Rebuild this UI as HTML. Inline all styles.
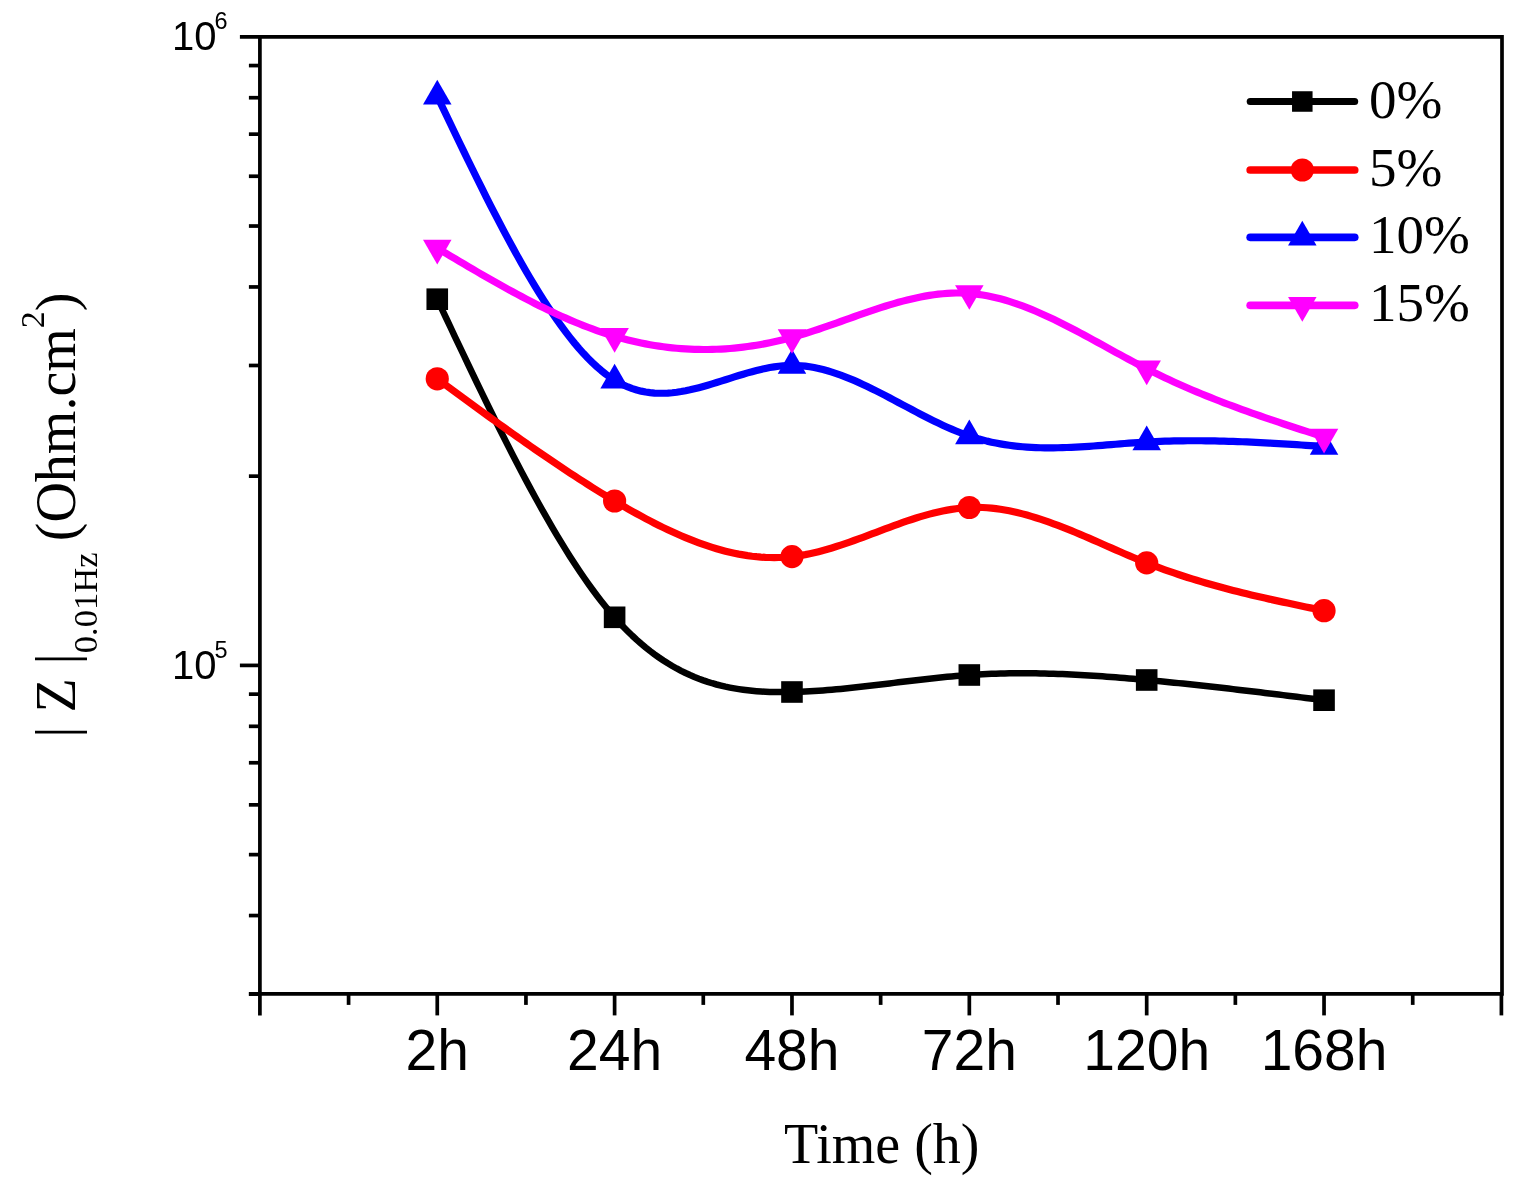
<!DOCTYPE html>
<html><head><meta charset="utf-8"><style>
html,body{margin:0;padding:0;background:#fff;}
svg{display:block;}
</style></head><body>
<svg width="1525" height="1189" viewBox="0 0 1525 1189">
<rect width="1525" height="1189" fill="#fff"/>
<g stroke="#000" stroke-width="3.7" fill="none" stroke-linecap="butt">
<path d="M239.89999999999998,36.8 H1502.0 V993.9 H248.89999999999998 M259.9,36.8 V1015.4"/>
<path d="M248.89999999999998,476.17 H259.9"/>
<path d="M248.89999999999998,365.48 H259.9"/>
<path d="M248.89999999999998,286.95 H259.9"/>
<path d="M248.89999999999998,226.03 H259.9"/>
<path d="M248.89999999999998,176.25 H259.9"/>
<path d="M248.89999999999998,134.17 H259.9"/>
<path d="M248.89999999999998,97.72 H259.9"/>
<path d="M248.89999999999998,65.56 H259.9"/>
<path d="M248.89999999999998,994.08 H259.9"/>
<path d="M248.89999999999998,915.55 H259.9"/>
<path d="M248.89999999999998,854.63 H259.9"/>
<path d="M248.89999999999998,804.85 H259.9"/>
<path d="M248.89999999999998,762.77 H259.9"/>
<path d="M248.89999999999998,726.32 H259.9"/>
<path d="M248.89999999999998,694.16 H259.9"/>
<path d="M239.89999999999998,665.40 H259.9"/>
<path d="M437.26,993.9 V1015.4"/>
<path d="M614.61,993.9 V1015.4"/>
<path d="M791.97,993.9 V1015.4"/>
<path d="M969.33,993.9 V1015.4"/>
<path d="M1146.69,993.9 V1015.4"/>
<path d="M1324.04,993.9 V1015.4"/>
<path d="M1501.40,993.9 V1015.4"/>
<path d="M348.58,993.9 V1004.9"/>
<path d="M525.94,993.9 V1004.9"/>
<path d="M703.29,993.9 V1004.9"/>
<path d="M880.65,993.9 V1004.9"/>
<path d="M1058.01,993.9 V1004.9"/>
<path d="M1235.36,993.9 V1004.9"/>
<path d="M1412.72,993.9 V1004.9"/>
</g>
<path d="M437.26,299.20 L441.69,308.61 L446.12,318.01 L450.56,327.40 L454.99,336.78 L459.43,346.13 L463.86,355.46 L468.29,364.76 L472.73,374.01 L477.16,383.22 L481.60,392.39 L486.03,401.49 L490.46,410.54 L494.90,419.53 L499.33,428.44 L503.77,437.27 L508.20,446.02 L512.63,454.69 L517.07,463.26 L521.50,471.74 L525.94,480.11 L530.37,488.37 L534.80,496.52 L539.24,504.54 L543.67,512.44 L548.11,520.21 L552.54,527.84 L556.97,535.34 L561.41,542.68 L565.84,549.87 L570.27,556.90 L574.71,563.77 L579.14,570.47 L583.58,576.99 L588.01,583.33 L592.44,589.49 L596.88,595.46 L601.31,601.23 L605.75,606.79 L610.18,612.15 L614.61,617.30 L619.05,622.23 L623.48,626.95 L627.92,631.45 L632.35,635.75 L636.78,639.85 L641.22,643.76 L645.65,647.47 L650.09,650.99 L654.52,654.34 L658.95,657.50 L663.39,660.49 L667.82,663.32 L672.26,665.97 L676.69,668.47 L681.12,670.82 L685.56,673.01 L689.99,675.05 L694.42,676.95 L698.86,678.72 L703.29,680.35 L707.73,681.86 L712.16,683.24 L716.59,684.50 L721.03,685.64 L725.46,686.68 L729.90,687.60 L734.33,688.43 L738.76,689.16 L743.20,689.80 L747.63,690.35 L752.07,690.82 L756.50,691.20 L760.93,691.52 L765.37,691.76 L769.80,691.94 L774.24,692.05 L778.67,692.11 L783.10,692.12 L787.54,692.08 L791.97,692.00 L796.41,691.88 L800.84,691.72 L805.27,691.53 L809.71,691.30 L814.14,691.04 L818.57,690.76 L823.01,690.44 L827.44,690.10 L831.88,689.73 L836.31,689.34 L840.74,688.92 L845.18,688.49 L849.61,688.04 L854.05,687.57 L858.48,687.08 L862.91,686.59 L867.35,686.08 L871.78,685.56 L876.22,685.03 L880.65,684.50 L885.08,683.96 L889.52,683.42 L893.95,682.87 L898.39,682.33 L902.82,681.79 L907.25,681.25 L911.69,680.72 L916.12,680.19 L920.56,679.67 L924.99,679.16 L929.42,678.67 L933.86,678.18 L938.29,677.71 L942.72,677.26 L947.16,676.83 L951.59,676.42 L956.03,676.03 L960.46,675.66 L964.89,675.32 L969.33,675.00 L973.76,674.71 L978.20,674.45 L982.63,674.22 L987.06,674.01 L991.50,673.83 L995.93,673.68 L1000.37,673.55 L1004.80,673.45 L1009.23,673.37 L1013.67,673.31 L1018.10,673.28 L1022.54,673.27 L1026.97,673.28 L1031.40,673.32 L1035.84,673.37 L1040.27,673.45 L1044.71,673.54 L1049.14,673.66 L1053.57,673.79 L1058.01,673.94 L1062.44,674.11 L1066.88,674.30 L1071.31,674.50 L1075.74,674.72 L1080.18,674.96 L1084.61,675.21 L1089.04,675.47 L1093.48,675.75 L1097.91,676.04 L1102.35,676.35 L1106.78,676.67 L1111.21,677.00 L1115.65,677.34 L1120.08,677.69 L1124.52,678.05 L1128.95,678.42 L1133.38,678.81 L1137.82,679.20 L1142.25,679.59 L1146.69,680.00 L1151.23,680.42 L1155.78,680.86 L1160.33,681.29 L1164.88,681.74 L1169.42,682.19 L1173.97,682.65 L1178.52,683.12 L1183.07,683.59 L1187.61,684.06 L1192.16,684.55 L1196.71,685.04 L1201.26,685.53 L1205.80,686.03 L1210.35,686.53 L1214.90,687.04 L1219.45,687.56 L1224.00,688.07 L1228.54,688.60 L1233.09,689.12 L1237.64,689.65 L1242.19,690.19 L1246.73,690.72 L1251.28,691.26 L1255.83,691.81 L1260.38,692.35 L1264.92,692.90 L1269.47,693.45 L1274.02,694.01 L1278.57,694.56 L1283.11,695.12 L1287.66,695.68 L1292.21,696.24 L1296.76,696.81 L1301.30,697.37 L1305.85,697.94 L1310.40,698.50 L1314.95,699.07 L1319.50,699.63 L1324.04,700.20" stroke="#000000" stroke-width="6.5" fill="none" stroke-linejoin="round" stroke-linecap="round"/>
<rect x="426.46" y="288.40" width="21.60" height="21.60" fill="#000000"/>
<rect x="603.81" y="606.50" width="21.60" height="21.60" fill="#000000"/>
<rect x="781.17" y="681.20" width="21.60" height="21.60" fill="#000000"/>
<rect x="958.53" y="664.20" width="21.60" height="21.60" fill="#000000"/>
<rect x="1135.89" y="669.20" width="21.60" height="21.60" fill="#000000"/>
<rect x="1313.24" y="689.40" width="21.60" height="21.60" fill="#000000"/>
<path d="M437.26,378.80 L441.69,382.06 L446.12,385.32 L450.56,388.58 L454.99,391.84 L459.43,395.10 L463.86,398.35 L468.29,401.59 L472.73,404.83 L477.16,408.07 L481.60,411.29 L486.03,414.51 L490.46,417.72 L494.90,420.93 L499.33,424.12 L503.77,427.30 L508.20,430.47 L512.63,433.62 L517.07,436.77 L521.50,439.90 L525.94,443.01 L530.37,446.11 L534.80,449.19 L539.24,452.26 L543.67,455.30 L548.11,458.33 L552.54,461.34 L556.97,464.33 L561.41,467.30 L565.84,470.25 L570.27,473.17 L574.71,476.07 L579.14,478.95 L583.58,481.80 L588.01,484.63 L592.44,487.43 L596.88,490.20 L601.31,492.94 L605.75,495.66 L610.18,498.34 L614.61,501.00 L619.05,503.62 L623.48,506.22 L627.92,508.77 L632.35,511.29 L636.78,513.76 L641.22,516.20 L645.65,518.59 L650.09,520.93 L654.52,523.22 L658.95,525.46 L663.39,527.64 L667.82,529.77 L672.26,531.83 L676.69,533.84 L681.12,535.78 L685.56,537.66 L689.99,539.46 L694.42,541.20 L698.86,542.86 L703.29,544.44 L707.73,545.95 L712.16,547.38 L716.59,548.72 L721.03,549.98 L725.46,551.15 L729.90,552.23 L734.33,553.22 L738.76,554.12 L743.20,554.91 L747.63,555.61 L752.07,556.21 L756.50,556.70 L760.93,557.08 L765.37,557.36 L769.80,557.52 L774.24,557.58 L778.67,557.51 L783.10,557.33 L787.54,557.03 L791.97,556.60 L796.41,556.05 L800.84,555.38 L805.27,554.60 L809.71,553.71 L814.14,552.73 L818.57,551.65 L823.01,550.49 L827.44,549.25 L831.88,547.93 L836.31,546.55 L840.74,545.11 L845.18,543.62 L849.61,542.09 L854.05,540.51 L858.48,538.90 L862.91,537.27 L867.35,535.61 L871.78,533.95 L876.22,532.27 L880.65,530.60 L885.08,528.94 L889.52,527.29 L893.95,525.66 L898.39,524.05 L902.82,522.48 L907.25,520.95 L911.69,519.47 L916.12,518.04 L920.56,516.68 L924.99,515.37 L929.42,514.15 L933.86,513.00 L938.29,511.94 L942.72,510.97 L947.16,510.10 L951.59,509.34 L956.03,508.70 L960.46,508.17 L964.89,507.77 L969.33,507.50 L973.76,507.37 L978.20,507.38 L982.63,507.51 L987.06,507.78 L991.50,508.16 L995.93,508.66 L1000.37,509.27 L1004.80,510.00 L1009.23,510.82 L1013.67,511.75 L1018.10,512.76 L1022.54,513.87 L1026.97,515.07 L1031.40,516.34 L1035.84,517.69 L1040.27,519.11 L1044.71,520.60 L1049.14,522.15 L1053.57,523.76 L1058.01,525.43 L1062.44,527.14 L1066.88,528.89 L1071.31,530.69 L1075.74,532.52 L1080.18,534.38 L1084.61,536.27 L1089.04,538.18 L1093.48,540.11 L1097.91,542.05 L1102.35,543.99 L1106.78,545.94 L1111.21,547.89 L1115.65,549.84 L1120.08,551.77 L1124.52,553.69 L1128.95,555.59 L1133.38,557.46 L1137.82,559.31 L1142.25,561.12 L1146.69,562.90 L1151.23,564.68 L1155.78,566.42 L1160.33,568.11 L1164.88,569.76 L1169.42,571.38 L1173.97,572.95 L1178.52,574.49 L1183.07,575.99 L1187.61,577.46 L1192.16,578.89 L1196.71,580.29 L1201.26,581.65 L1205.80,582.99 L1210.35,584.30 L1214.90,585.58 L1219.45,586.83 L1224.00,588.05 L1228.54,589.25 L1233.09,590.43 L1237.64,591.58 L1242.19,592.71 L1246.73,593.83 L1251.28,594.92 L1255.83,595.99 L1260.38,597.05 L1264.92,598.09 L1269.47,599.12 L1274.02,600.13 L1278.57,601.13 L1283.11,602.12 L1287.66,603.10 L1292.21,604.07 L1296.76,605.03 L1301.30,605.99 L1305.85,606.94 L1310.40,607.88 L1314.95,608.82 L1319.50,609.76 L1324.04,610.70" stroke="#ff0000" stroke-width="7.2" fill="none" stroke-linejoin="round" stroke-linecap="round"/>
<circle cx="437.26" cy="378.80" r="11.60" fill="#ff0000"/>
<circle cx="614.61" cy="501.00" r="11.60" fill="#ff0000"/>
<circle cx="791.97" cy="556.60" r="11.60" fill="#ff0000"/>
<circle cx="969.33" cy="507.50" r="11.60" fill="#ff0000"/>
<circle cx="1146.69" cy="562.90" r="11.60" fill="#ff0000"/>
<circle cx="1324.04" cy="610.70" r="11.60" fill="#ff0000"/>
<path d="M437.26,96.20 L441.69,105.48 L446.12,114.76 L450.56,124.02 L454.99,133.25 L459.43,142.46 L463.86,151.62 L468.29,160.73 L472.73,169.78 L477.16,178.77 L481.60,187.69 L486.03,196.52 L490.46,205.27 L494.90,213.91 L499.33,222.45 L503.77,230.87 L508.20,239.17 L512.63,247.34 L517.07,255.37 L521.50,263.26 L525.94,270.98 L530.37,278.55 L534.80,285.94 L539.24,293.15 L543.67,300.17 L548.11,306.99 L552.54,313.62 L556.97,320.02 L561.41,326.21 L565.84,332.17 L570.27,337.88 L574.71,343.36 L579.14,348.58 L583.58,353.53 L588.01,358.22 L592.44,362.63 L596.88,366.75 L601.31,370.57 L605.75,374.10 L610.18,377.31 L614.61,380.20 L619.05,382.77 L623.48,385.02 L627.92,386.97 L632.35,388.63 L636.78,390.02 L641.22,391.14 L645.65,392.01 L650.09,392.65 L654.52,393.06 L658.95,393.26 L663.39,393.26 L667.82,393.08 L672.26,392.72 L676.69,392.21 L681.12,391.55 L685.56,390.75 L689.99,389.84 L694.42,388.82 L698.86,387.70 L703.29,386.50 L707.73,385.24 L712.16,383.91 L716.59,382.55 L721.03,381.16 L725.46,379.74 L729.90,378.33 L734.33,376.92 L738.76,375.54 L743.20,374.19 L747.63,372.89 L752.07,371.66 L756.50,370.49 L760.93,369.41 L765.37,368.44 L769.80,367.57 L774.24,366.83 L778.67,366.23 L783.10,365.79 L787.54,365.50 L791.97,365.40 L796.41,365.48 L800.84,365.75 L805.27,366.19 L809.71,366.80 L814.14,367.57 L818.57,368.49 L823.01,369.56 L827.44,370.76 L831.88,372.09 L836.31,373.55 L840.74,375.12 L845.18,376.80 L849.61,378.57 L854.05,380.44 L858.48,382.39 L862.91,384.42 L867.35,386.51 L871.78,388.67 L876.22,390.88 L880.65,393.13 L885.08,395.42 L889.52,397.75 L893.95,400.09 L898.39,402.45 L902.82,404.82 L907.25,407.19 L911.69,409.54 L916.12,411.89 L920.56,414.21 L924.99,416.50 L929.42,418.75 L933.86,420.95 L938.29,423.10 L942.72,425.19 L947.16,427.21 L951.59,429.15 L956.03,431.01 L960.46,432.78 L964.89,434.44 L969.33,436.00 L973.76,437.45 L978.20,438.78 L982.63,440.00 L987.06,441.13 L991.50,442.15 L995.93,443.07 L1000.37,443.90 L1004.80,444.64 L1009.23,445.29 L1013.67,445.86 L1018.10,446.35 L1022.54,446.77 L1026.97,447.11 L1031.40,447.38 L1035.84,447.59 L1040.27,447.73 L1044.71,447.82 L1049.14,447.86 L1053.57,447.84 L1058.01,447.77 L1062.44,447.66 L1066.88,447.52 L1071.31,447.33 L1075.74,447.11 L1080.18,446.86 L1084.61,446.59 L1089.04,446.29 L1093.48,445.97 L1097.91,445.64 L1102.35,445.30 L1106.78,444.95 L1111.21,444.59 L1115.65,444.23 L1120.08,443.88 L1124.52,443.53 L1128.95,443.19 L1133.38,442.86 L1137.82,442.55 L1142.25,442.27 L1146.69,442.00 L1151.23,441.76 L1155.78,441.54 L1160.33,441.35 L1164.88,441.19 L1169.42,441.05 L1173.97,440.94 L1178.52,440.85 L1183.07,440.79 L1187.61,440.75 L1192.16,440.73 L1196.71,440.73 L1201.26,440.75 L1205.80,440.80 L1210.35,440.86 L1214.90,440.94 L1219.45,441.04 L1224.00,441.15 L1228.54,441.29 L1233.09,441.43 L1237.64,441.60 L1242.19,441.77 L1246.73,441.96 L1251.28,442.16 L1255.83,442.38 L1260.38,442.60 L1264.92,442.84 L1269.47,443.08 L1274.02,443.34 L1278.57,443.60 L1283.11,443.87 L1287.66,444.14 L1292.21,444.42 L1296.76,444.71 L1301.30,445.00 L1305.85,445.30 L1310.40,445.60 L1314.95,445.90 L1319.50,446.20 L1324.04,446.50" stroke="#0000ff" stroke-width="7.2" fill="none" stroke-linejoin="round" stroke-linecap="round"/>
<polygon points="437.26,79.75 423.01,104.43 451.51,104.43" fill="#0000ff"/>
<polygon points="614.61,363.75 600.36,388.43 628.86,388.43" fill="#0000ff"/>
<polygon points="791.97,348.95 777.72,373.63 806.22,373.63" fill="#0000ff"/>
<polygon points="969.33,419.55 955.08,444.23 983.58,444.23" fill="#0000ff"/>
<polygon points="1146.69,425.55 1132.44,450.23 1160.94,450.23" fill="#0000ff"/>
<polygon points="1324.04,430.05 1309.79,454.73 1338.29,454.73" fill="#0000ff"/>
<path d="M437.26,248.10 L441.69,250.75 L446.12,253.40 L450.56,256.04 L454.99,258.68 L459.43,261.31 L463.86,263.94 L468.29,266.55 L472.73,269.15 L477.16,271.74 L481.60,274.32 L486.03,276.88 L490.46,279.41 L494.90,281.93 L499.33,284.43 L503.77,286.91 L508.20,289.35 L512.63,291.78 L517.07,294.17 L521.50,296.54 L525.94,298.87 L530.37,301.17 L534.80,303.43 L539.24,305.66 L543.67,307.85 L548.11,310.00 L552.54,312.10 L556.97,314.17 L561.41,316.19 L565.84,318.16 L570.27,320.08 L574.71,321.96 L579.14,323.78 L583.58,325.55 L588.01,327.26 L592.44,328.92 L596.88,330.52 L601.31,332.06 L605.75,333.54 L610.18,334.95 L614.61,336.30 L619.05,337.58 L623.48,338.80 L627.92,339.95 L632.35,341.03 L636.78,342.05 L641.22,343.00 L645.65,343.89 L650.09,344.71 L654.52,345.46 L658.95,346.15 L663.39,346.78 L667.82,347.34 L672.26,347.83 L676.69,348.27 L681.12,348.63 L685.56,348.94 L689.99,349.17 L694.42,349.35 L698.86,349.46 L703.29,349.51 L707.73,349.49 L712.16,349.41 L716.59,349.27 L721.03,349.07 L725.46,348.80 L729.90,348.47 L734.33,348.08 L738.76,347.63 L743.20,347.11 L747.63,346.53 L752.07,345.89 L756.50,345.19 L760.93,344.43 L765.37,343.61 L769.80,342.73 L774.24,341.78 L778.67,340.78 L783.10,339.71 L787.54,338.59 L791.97,337.40 L796.41,336.16 L800.84,334.86 L805.27,333.51 L809.71,332.11 L814.14,330.68 L818.57,329.21 L823.01,327.70 L827.44,326.18 L831.88,324.63 L836.31,323.07 L840.74,321.50 L845.18,319.92 L849.61,318.34 L854.05,316.76 L858.48,315.20 L862.91,313.65 L867.35,312.11 L871.78,310.60 L876.22,309.12 L880.65,307.67 L885.08,306.27 L889.52,304.90 L893.95,303.59 L898.39,302.32 L902.82,301.12 L907.25,299.98 L911.69,298.90 L916.12,297.90 L920.56,296.98 L924.99,296.14 L929.42,295.39 L933.86,294.73 L938.29,294.17 L942.72,293.72 L947.16,293.37 L951.59,293.13 L956.03,293.01 L960.46,293.01 L964.89,293.14 L969.33,293.40 L973.76,293.80 L978.20,294.33 L982.63,294.99 L987.06,295.77 L991.50,296.67 L995.93,297.68 L1000.37,298.81 L1004.80,300.04 L1009.23,301.38 L1013.67,302.81 L1018.10,304.33 L1022.54,305.94 L1026.97,307.64 L1031.40,309.41 L1035.84,311.26 L1040.27,313.18 L1044.71,315.17 L1049.14,317.22 L1053.57,319.32 L1058.01,321.48 L1062.44,323.68 L1066.88,325.93 L1071.31,328.22 L1075.74,330.54 L1080.18,332.90 L1084.61,335.28 L1089.04,337.68 L1093.48,340.09 L1097.91,342.52 L1102.35,344.96 L1106.78,347.40 L1111.21,349.84 L1115.65,352.28 L1120.08,354.70 L1124.52,357.11 L1128.95,359.51 L1133.38,361.88 L1137.82,364.22 L1142.25,366.53 L1146.69,368.80 L1151.23,371.09 L1155.78,373.34 L1160.33,375.54 L1164.88,377.71 L1169.42,379.84 L1173.97,381.93 L1178.52,383.99 L1183.07,386.01 L1187.61,387.99 L1192.16,389.94 L1196.71,391.86 L1201.26,393.75 L1205.80,395.61 L1210.35,397.44 L1214.90,399.24 L1219.45,401.02 L1224.00,402.77 L1228.54,404.50 L1233.09,406.20 L1237.64,407.88 L1242.19,409.54 L1246.73,411.18 L1251.28,412.80 L1255.83,414.41 L1260.38,416.00 L1264.92,417.57 L1269.47,419.13 L1274.02,420.67 L1278.57,422.20 L1283.11,423.72 L1287.66,425.24 L1292.21,426.74 L1296.76,428.23 L1301.30,429.72 L1305.85,431.20 L1310.40,432.68 L1314.95,434.16 L1319.50,435.63 L1324.04,437.10" stroke="#ff00ff" stroke-width="7.2" fill="none" stroke-linejoin="round" stroke-linecap="round"/>
<polygon points="437.26,264.55 423.01,239.87 451.51,239.87" fill="#ff00ff"/>
<polygon points="614.61,352.75 600.36,328.07 628.86,328.07" fill="#ff00ff"/>
<polygon points="791.97,353.85 777.72,329.17 806.22,329.17" fill="#ff00ff"/>
<polygon points="969.33,309.85 955.08,285.17 983.58,285.17" fill="#ff00ff"/>
<polygon points="1146.69,385.25 1132.44,360.57 1160.94,360.57" fill="#ff00ff"/>
<polygon points="1324.04,453.55 1309.79,428.87 1338.29,428.87" fill="#ff00ff"/>
<path d="M1250.2,101.5 H1354.7" stroke="#000000" stroke-width="7.0" stroke-linecap="round"/>
<rect x="1292.04" y="91.24" width="20.52" height="20.52" fill="#000000"/>
<text x="1369" y="117.5" font-family="Liberation Serif, serif" font-size="55" fill="#000">0%</text>
<path d="M1250.2,170.0 H1354.7" stroke="#ff0000" stroke-width="7.7" stroke-linecap="round"/>
<circle cx="1302.30" cy="170.00" r="11.60" fill="#ff0000"/>
<text x="1369" y="186.0" font-family="Liberation Serif, serif" font-size="55" fill="#000">5%</text>
<path d="M1250.2,237.3 H1354.7" stroke="#0000ff" stroke-width="7.7" stroke-linecap="round"/>
<polygon points="1302.30,220.85 1288.05,245.53 1316.55,245.53" fill="#0000ff"/>
<text x="1369" y="253.3" font-family="Liberation Serif, serif" font-size="55" fill="#000">10%</text>
<path d="M1250.2,305.3 H1354.7" stroke="#ff00ff" stroke-width="7.7" stroke-linecap="round"/>
<polygon points="1302.30,321.75 1288.05,297.07 1316.55,297.07" fill="#ff00ff"/>
<text x="1369" y="321.3" font-family="Liberation Serif, serif" font-size="55" fill="#000">15%</text>
<text x="437.26" y="1070.4" text-anchor="middle" font-family="Liberation Sans, Arial, sans-serif" font-size="57" fill="#000">2h</text>
<text x="614.61" y="1070.4" text-anchor="middle" font-family="Liberation Sans, Arial, sans-serif" font-size="57" fill="#000">24h</text>
<text x="791.97" y="1070.4" text-anchor="middle" font-family="Liberation Sans, Arial, sans-serif" font-size="57" fill="#000">48h</text>
<text x="969.33" y="1070.4" text-anchor="middle" font-family="Liberation Sans, Arial, sans-serif" font-size="57" fill="#000">72h</text>
<text x="1146.69" y="1070.4" text-anchor="middle" font-family="Liberation Sans, Arial, sans-serif" font-size="57" fill="#000">120h</text>
<text x="1324.04" y="1070.4" text-anchor="middle" font-family="Liberation Sans, Arial, sans-serif" font-size="57" fill="#000">168h</text>
<text x="172" y="49.8" font-family="Liberation Sans, Arial, sans-serif" font-size="40" fill="#000">10<tspan font-size="23.5" dx="-2" dy="-20.7">6</tspan></text>
<text x="172" y="678.8" font-family="Liberation Sans, Arial, sans-serif" font-size="40" fill="#000">10<tspan font-size="23.5" dx="-2" dy="-20.7">5</tspan></text>
<text x="784" y="1162.6" font-family="Liberation Serif, serif" font-size="56" fill="#000">Time (h)</text>
<text transform="translate(74.5,737.8) rotate(-90)" font-family="Liberation Serif, serif" font-size="56" fill="#000">| Z |<tspan font-size="34.5" dy="22">0.01Hz</tspan><tspan dy="-22" dx="-2.7"> (Ohm.cm</tspan><tspan font-size="34" dy="-30.4">2</tspan><tspan dy="30.4">)</tspan></text>
</svg>
</body></html>
